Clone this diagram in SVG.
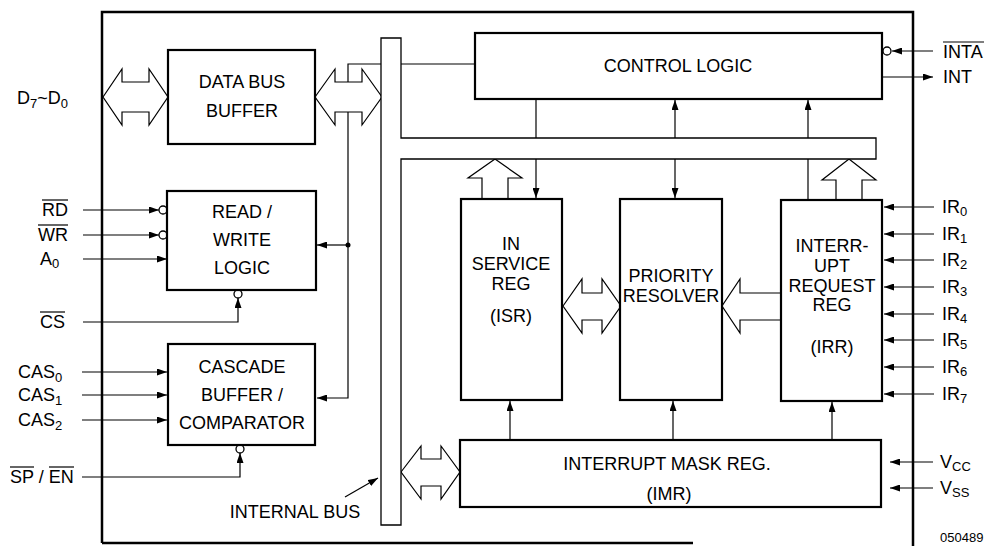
<svg xmlns="http://www.w3.org/2000/svg" width="991" height="546" viewBox="0 0 991 546">
<defs>
<style>
.box{fill:#fff;stroke:#000;stroke-width:2.2}
.ln{fill:none;stroke:#000;stroke-width:1.2}
.fat{fill:#fff;stroke:#000;stroke-width:1.2;stroke-linejoin:miter}
.arr{fill:none;stroke:#000;stroke-width:1.2;marker-end:url(#ah)}
.bub{fill:#fff;stroke:#000;stroke-width:1.3}
text{font-family:"Liberation Sans",Arial,sans-serif;font-size:18px;fill:#000}
.c{text-anchor:middle}
.s{font-size:13px}
.o{stroke:#000;stroke-width:1.2}
</style>
<marker id="ah" viewBox="0 0 10 7" refX="10" refY="3.5" markerWidth="10" markerHeight="7" markerUnits="userSpaceOnUse" orient="auto">
<path d="M0,0 L10,3.5 L0,7 z" fill="#000"/>
</marker>
</defs>
<rect width="991" height="546" fill="#fff"/>

<g id="outer">
<path d="M102,543 V12 H913 V546" fill="none" stroke="#000" stroke-width="2.5"/>
<path d="M102,543 H693" fill="none" stroke="#000" stroke-width="2.5"/>
</g>

<g id="connectors">
<path class="fat" d="M103,97 L122,69 L122,82 L149,82 L149,69 L168,97 L149,125 L149,112 L122,112 L122,125 Z"/>
<path class="fat" d="M315,97 L335,69 L335,82 L362,82 L362,69 L382,97 L362,125 L362,112 L335,112 L335,125 Z"/>
<path class="ln" d="M348,82 V64 H381"/>
<path class="ln" d="M401,64 H475"/>
<path class="arr" d="M348,112 V398 H317"/>
<path class="arr" d="M348,245 H317"/>
<circle cx="348" cy="245" r="2.5" fill="#000"/>
<path class="arr" d="M83,210 H159"/>
<path class="arr" d="M83,235 H159"/>
<path class="arr" d="M83,259 H167"/>
<path class="arr" d="M83,322 H238 V298"/>
<path class="arr" d="M82,372 H167"/>
<path class="arr" d="M82,395 H167"/>
<path class="arr" d="M82,420 H167"/>
<path class="arr" d="M82,477 H240 V453"/>
<path class="arr" d="M345,497 L378,478"/>
<path class="ln" d="M536,99 V138"/>
<path class="arr" d="M675,138 V100"/>
<path class="arr" d="M808,138 V100"/>
<path class="ln" d="M808,200 V159"/>
<path class="arr" d="M536,159 V198"/>
<path class="arr" d="M675,159 V198"/>
<path class="fat" d="M482,199 V178 H468 L495,159 L522,178 H508 V199"/>
<path class="fat" d="M836,200 V180 H822 L849,159 L876,180 H862 V200"/>
<path class="fat" d="M563,306 L582,279 L582,293 L602,293 L602,279 L621,306 L602,333 L602,320 L582,320 L582,333 Z"/>
<path class="fat" d="M781,293 L740,293 L740,279 L722,306 L740,333 L740,320 L781,320"/>
<path class="fat" d="M401,472 L421,446 L421,459 L441,459 L441,446 L460,472 L441,499 L441,486 L421,486 L421,499 Z"/>
<path class="arr" d="M510,440 V401"/>
<path class="arr" d="M673,440 V401"/>
<path class="arr" d="M832,440 V402"/>
<path class="arr" d="M933,51 H892"/>
<path class="arr" d="M882,77 H933"/>
<path class="arr" d="M934,207 H884"/>
<path class="arr" d="M934,234 H884"/>
<path class="arr" d="M934,260 H884"/>
<path class="arr" d="M934,287 H884"/>
<path class="arr" d="M934,314 H884"/>
<path class="arr" d="M934,340 H884"/>
<path class="arr" d="M934,367 H884"/>
<path class="arr" d="M934,394 H884"/>
<path class="arr" d="M933,462 H890"/>
<path class="arr" d="M933,488 H890"/>
<circle class="bub" cx="163" cy="210" r="4"/>
<circle class="bub" cx="163" cy="235" r="4"/>
<circle class="bub" cx="238" cy="294" r="4"/>
<circle class="bub" cx="240" cy="449" r="4"/>
<circle class="bub" cx="887" cy="51" r="4"/>
</g>

<g id="internal-bus">
<path d="M381,38 H401 V138 H876 V159 H401 V525 H381 Z" fill="#fff" stroke="#000" stroke-width="1.3"/>
<text class="c" x="295" y="518">INTERNAL BUS</text>
</g>

<g id="data-bus-buffer">
<rect class="box" x="168" y="50" width="147" height="94"/>
<text class="c" x="242" y="88">DATA BUS</text>
<text class="c" x="242" y="117">BUFFER</text>
</g>

<g id="read-write-logic">
<rect class="box" x="167" y="191" width="149" height="99"/>
<text class="c" x="242" y="218">READ /</text>
<text class="c" x="242" y="246">WRITE</text>
<text class="c" x="242" y="274">LOGIC</text>
</g>

<g id="cascade-buffer">
<rect class="box" x="168" y="344" width="147" height="101"/>
<text class="c" x="242" y="373">CASCADE</text>
<text class="c" x="242" y="401">BUFFER /</text>
<text class="c" x="242" y="429">COMPARATOR</text>
</g>

<g id="control-logic">
<rect class="box" x="475" y="33" width="407" height="66"/>
<text class="c" x="678" y="72">CONTROL LOGIC</text>
</g>

<g id="isr">
<rect class="box" x="461" y="199" width="101" height="201"/>
<text class="c" x="511" y="250">IN</text>
<text class="c" x="511" y="270">SERVICE</text>
<text class="c" x="511" y="290">REG</text>
<text class="c" x="511" y="322">(ISR)</text>
</g>

<g id="priority-resolver">
<rect class="box" x="620" y="199" width="102" height="201"/>
<text class="c" x="671" y="282">PRIORITY</text>
<text class="c" x="671" y="302">RESOLVER</text>
</g>

<g id="irr">
<rect class="box" x="781" y="200" width="101" height="201"/>
<text class="c" x="832" y="252">INTERR-</text>
<text class="c" x="832" y="272">UPT</text>
<text class="c" x="832" y="292">REQUEST</text>
<text class="c" x="832" y="311">REG</text>
<text class="c" x="832" y="353">(IRR)</text>
</g>

<g id="imr">
<rect class="box" x="460" y="440" width="421" height="67"/>
<text class="c" x="667" y="470">INTERRUPT MASK REG.</text>
<text class="c" x="669" y="500">(IMR)</text>
</g>

<g id="pin-labels">
<text x="17" y="104">D<tspan class="s" dy="4">7</tspan><tspan dy="-4">~D</tspan><tspan class="s" dy="4">0</tspan></text>
<text x="42" y="216">RD</text>
<line class="o" x1="42" y1="200" x2="68" y2="200"/>
<text x="38" y="241">WR</text>
<line class="o" x1="38" y1="225" x2="68" y2="225"/>
<text x="40" y="265">A<tspan class="s" dy="3">0</tspan></text>
<text x="40" y="328">CS</text>
<line class="o" x1="40" y1="312" x2="65" y2="312"/>
<text x="18" y="378">CAS<tspan class="s" dy="4">0</tspan></text>
<text x="18" y="401">CAS<tspan class="s" dy="4">1</tspan></text>
<text x="18" y="426">CAS<tspan class="s" dy="4">2</tspan></text>
<text x="10" y="483">SP / EN</text>
<line class="o" x1="10" y1="467" x2="34" y2="467"/>
<line class="o" x1="49" y1="467" x2="74" y2="467"/>
<text x="943" y="58">INTA</text>
<line class="o" x1="943" y1="42" x2="984" y2="42"/>
<text x="943" y="83">INT</text>
<text x="942" y="213">IR<tspan class="s" dy="3">0</tspan></text>
<text x="942" y="240">IR<tspan class="s" dy="3">1</tspan></text>
<text x="942" y="266">IR<tspan class="s" dy="3">2</tspan></text>
<text x="942" y="293">IR<tspan class="s" dy="3">3</tspan></text>
<text x="942" y="320">IR<tspan class="s" dy="3">4</tspan></text>
<text x="942" y="346">IR<tspan class="s" dy="3">5</tspan></text>
<text x="942" y="373">IR<tspan class="s" dy="3">6</tspan></text>
<text x="942" y="400">IR<tspan class="s" dy="3">7</tspan></text>
<text x="940" y="468">V<tspan class="s" dy="3">CC</tspan></text>
<text x="940" y="494">V<tspan class="s" dy="3">SS</tspan></text>
<text x="940" y="542" style="font-size:13px">050489</text>
</g>
</svg>
